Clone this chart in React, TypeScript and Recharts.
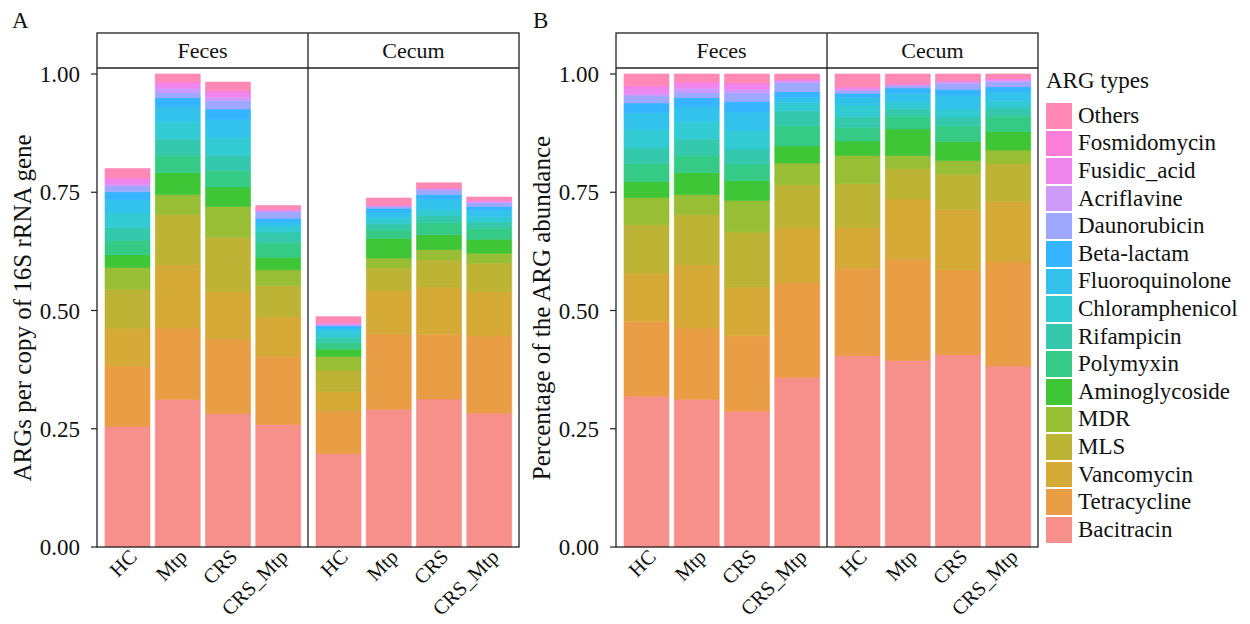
import { Bar, BarChart, XAxis, YAxis } from 'recharts';

const FONT = '"Liberation Serif", "Times New Roman", serif';

const groups = ['HC', 'Mtp', 'CRS', 'CRS_Mtp'];
const sites = ['Feces', 'Cecum'];
const yTicks = [0, 0.25, 0.5, 0.75, 1];

// stacking order, bottom to top
const argTypes = [
  'Bacitracin', 'Tetracycline', 'Vancomycin', 'MLS', 'MDR', 'Aminoglycoside',
  'Polymyxin', 'Rifampicin', 'Chloramphenicol', 'Fluoroquinolone', 'Beta-lactam',
  'Daunorubicin', 'Acriflavine', 'Fusidic_acid', 'Fosmidomycin', 'Others',
];
const argColors = [
  '#F78F8A', '#E99D45', '#D6AA37', '#BDB435', '#97BE35', '#3EC637',
  '#35CA85', '#34C9AD', '#33CBD3', '#33C2EC', '#35B4FF',
  '#9EA8FF', '#CE9BFB', '#EE86EE', '#FB7ED8', '#FF88B4',
];

// ARGs per copy of 16S rRNA gene
// Feces HC, Mtp, CRS, CRS_Mtp, then Cecum HC, Mtp, CRS, CRS_Mtp
const bacitracin = [0.255, 0.312, 0.282, 0.259, 0.197, 0.291, 0.313, 0.283];
const tetracycline = [0.127, 0.151, 0.157, 0.144, 0.09, 0.158, 0.137, 0.163];
const vancomycin = [0.081, 0.134, 0.101, 0.084, 0.042, 0.094, 0.099, 0.094];
const mls = [0.082, 0.106, 0.115, 0.066, 0.045, 0.047, 0.058, 0.06];
const mdr = [0.046, 0.042, 0.065, 0.033, 0.029, 0.021, 0.022, 0.021];
const aminoglycoside = [0.027, 0.046, 0.041, 0.026, 0.015, 0.041, 0.031, 0.029];
const polymyxin = [0.03, 0.037, 0.035, 0.031, 0.014, 0.02, 0.026, 0.024];
const rifampicin = [0.027, 0.034, 0.031, 0.023, 0.011, 0.012, 0.014, 0.013];
const chloramphenicol = [0.031, 0.037, 0.039, 0.012, 0.012, 0.011, 0.013, 0.011];
const fluoroquinolone = [0.029, 0.032, 0.038, 0.008, 0.008, 0.013, 0.022, 0.014];
const betaLactam = [0.016, 0.019, 0.022, 0.009, 0.004, 0.008, 0.01, 0.008];
const daunorubicin = [0.012, 0.011, 0.018, 0.014, 0.003, 0.004, 0.01, 0.008];
const acriflavine = [0.004, 0.009, 0.007, 0.002, 0.001, 0.001, 0.002, 0.002];
const fusidicAcid = [0.011, 0.01, 0.011, 0.002, 0.002, 0.001, 0.001, 0.002];
const fosmidomycin = [0.003, 0.004, 0.003, 0.001, 0.001, 0.001, 0.001, 0.001];
const others = [0.019, 0.016, 0.018, 0.008, 0.013, 0.015, 0.011, 0.007];

const argValues = [
  bacitracin, tetracycline, vancomycin, mls, mdr, aminoglycoside,
  polymyxin, rifampicin, chloramphenicol, fluoroquinolone, betaLactam,
  daunorubicin, acriflavine, fusidicAcid, fosmidomycin, others,
];

const rowsFor = (siteIdx: number) =>
  groups.map((g, i) => {
    const row: Record<string, any> = { group: g };
    argTypes.forEach((t, k) => {
      row[t] = argValues[k][siteIdx * 4 + i];
    });
    return row;
  });

// page geometry of the faceted panels
const FRAME_TOP = 33; // strip top
const STRIP_BOTTOM = 68; // panel top
const PANEL_BOTTOM = 547; // y = 0
const ONE_Y = 74; // y = 1.00
const CHART_TOP = 40;
const FACET_W = 211;
const AXIS_W = 96;
const XAXIS_H = 76;

const GroupTick = (props: any) => {
  const { x, y, payload } = props;
  const ax = x + 11;
  const ay = y + 11;
  return (
    <text
      x={ax}
      y={ay}
      transform={`rotate(-45 ${ax} ${ay})`}
      textAnchor="end"
      fontSize={20.5}
      fontFamily={FONT}
      fill="#111"
    >
      {payload.value}
    </text>
  );
};

interface FacetProps {
  siteIdx: number;
  left: number;
  withAxis: boolean;
  expand: boolean;
  yTitle?: string;
}

const Facet = ({ siteIdx, left, withAxis, expand, yTitle }: FacetProps) => {
  const width = FACET_W + (withAxis ? AXIS_W : 0);
  const marginTop = ONE_Y - CHART_TOP;
  const plotH = PANEL_BOTTOM - ONE_Y;
  return (
    <div style={{ position: 'absolute', left: withAxis ? left - AXIS_W : left, top: CHART_TOP }}>
      <BarChart
        width={width}
        height={marginTop + plotH + XAXIS_H}
        data={rowsFor(siteIdx)}
        stackOffset={expand ? 'expand' : 'none'}
        margin={{ top: marginTop, right: 0, bottom: 0, left: 0 }}
        barSize={45}
      >
        <XAxis
          dataKey="group"
          height={XAXIS_H}
          padding={{ left: 5, right: 5 }}
          axisLine={false}
          tickLine={false}
          tickSize={0}
          tickMargin={0}
          interval={0}
          tick={<GroupTick />}
        />
        <YAxis
          hide={!withAxis}
          width={AXIS_W}
          type="number"
          domain={[0, 1]}
          ticks={yTicks}
          tickFormatter={(v: number) => v.toFixed(2)}
          axisLine={false}
          tickLine={{ stroke: '#222', strokeWidth: 1.2 }}
          tickSize={6}
          tickMargin={11}
          tick={{ fill: '#111', fontSize: 23, fontFamily: FONT }}
        />
        {argTypes.map((t, k) => (
          <Bar
            key={t}
            dataKey={t}
            stackId="arg"
            fill={argColors[k]}
            stroke={argColors[k]}
            strokeWidth={0.6}
            isAnimationActive={false}
          />
        ))}
      </BarChart>
      {withAxis && yTitle && (
        <div
          style={{
            position: 'absolute',
            left: 22 - 250,
            top: (STRIP_BOTTOM + PANEL_BOTTOM) / 2 - CHART_TOP - 15,
            width: 500,
            height: 30,
            lineHeight: '30px',
            textAlign: 'center',
            transform: 'rotate(-90deg)',
            fontSize: 25,
            fontFamily: FONT,
            color: '#111',
            whiteSpace: 'nowrap',
          }}
        >
          {yTitle}
        </div>
      )}
    </div>
  );
};

const PanelFrame = ({ left }: { left: number }) => {
  const h = PANEL_BOTTOM - FRAME_TOP;
  const stripH = STRIP_BOTTOM - FRAME_TOP;
  return (
    <svg
      width={2 * FACET_W + 4}
      height={h + 4}
      style={{ position: 'absolute', left: left - 2, top: FRAME_TOP - 2, pointerEvents: 'none' }}
    >
      <g transform="translate(2,2)" stroke="#222" strokeWidth={1.3} fill="none">
        <rect x={0} y={0} width={2 * FACET_W} height={h} />
        <line x1={0} x2={2 * FACET_W} y1={stripH} y2={stripH} />
        <line x1={FACET_W} x2={FACET_W} y1={0} y2={h} />
      </g>
      {sites.map((s, i) => (
        <text
          key={s}
          x={2 + FACET_W * i + FACET_W / 2}
          y={2 + stripH / 2}
          dy="0.35em"
          textAnchor="middle"
          fontSize={22}
          fontFamily={FONT}
          fill="#111"
        >
          {s}
        </text>
      ))}
    </svg>
  );
};

const Panel = ({ left, expand, yTitle, tag, tagX }: { left: number; expand: boolean; yTitle: string; tag: string; tagX: number }) => (
  <>
    <div style={{ position: 'absolute', left: tagX, top: 8, fontSize: 23, fontFamily: FONT, color: '#111' }}>
      {tag}
    </div>
    <Facet siteIdx={0} left={left} withAxis expand={expand} yTitle={yTitle} />
    <Facet siteIdx={1} left={left + FACET_W} withAxis={false} expand={expand} />
    <PanelFrame left={left} />
  </>
);

const ArgLegend = () => (
  <div style={{ position: 'absolute', left: 1046, top: 66, fontFamily: FONT, color: '#111' }}>
    <div style={{ fontSize: 23, height: 30, lineHeight: '30px', marginBottom: 6 }}>ARG types</div>
    {argTypes
      .map((t, k) => ({ t, c: argColors[k] }))
      .reverse()
      .map(({ t, c }) => (
        <div key={t} style={{ display: 'flex', alignItems: 'center', height: 27.6 }}>
          <div style={{ width: 26, height: 25.6, background: c, marginRight: 6 }} />
          <span style={{ fontSize: 23, whiteSpace: 'nowrap' }}>{t}</span>
        </div>
      ))}
  </div>
);

export default function App() {
  return (
    <div
      style={{
        position: 'absolute',
        left: 0,
        top: 0,
        width: 1250,
        height: 624,
        background: '#fff',
        overflow: 'hidden',
      }}
    >
      <Panel left={97} expand={false} yTitle="ARGs per copy of 16S rRNA gene" tag="A" tagX={12} />
      <Panel left={616} expand yTitle="Percentage of the ARG abundance" tag="B" tagX={533} />
      <ArgLegend />
    </div>
  );
}
